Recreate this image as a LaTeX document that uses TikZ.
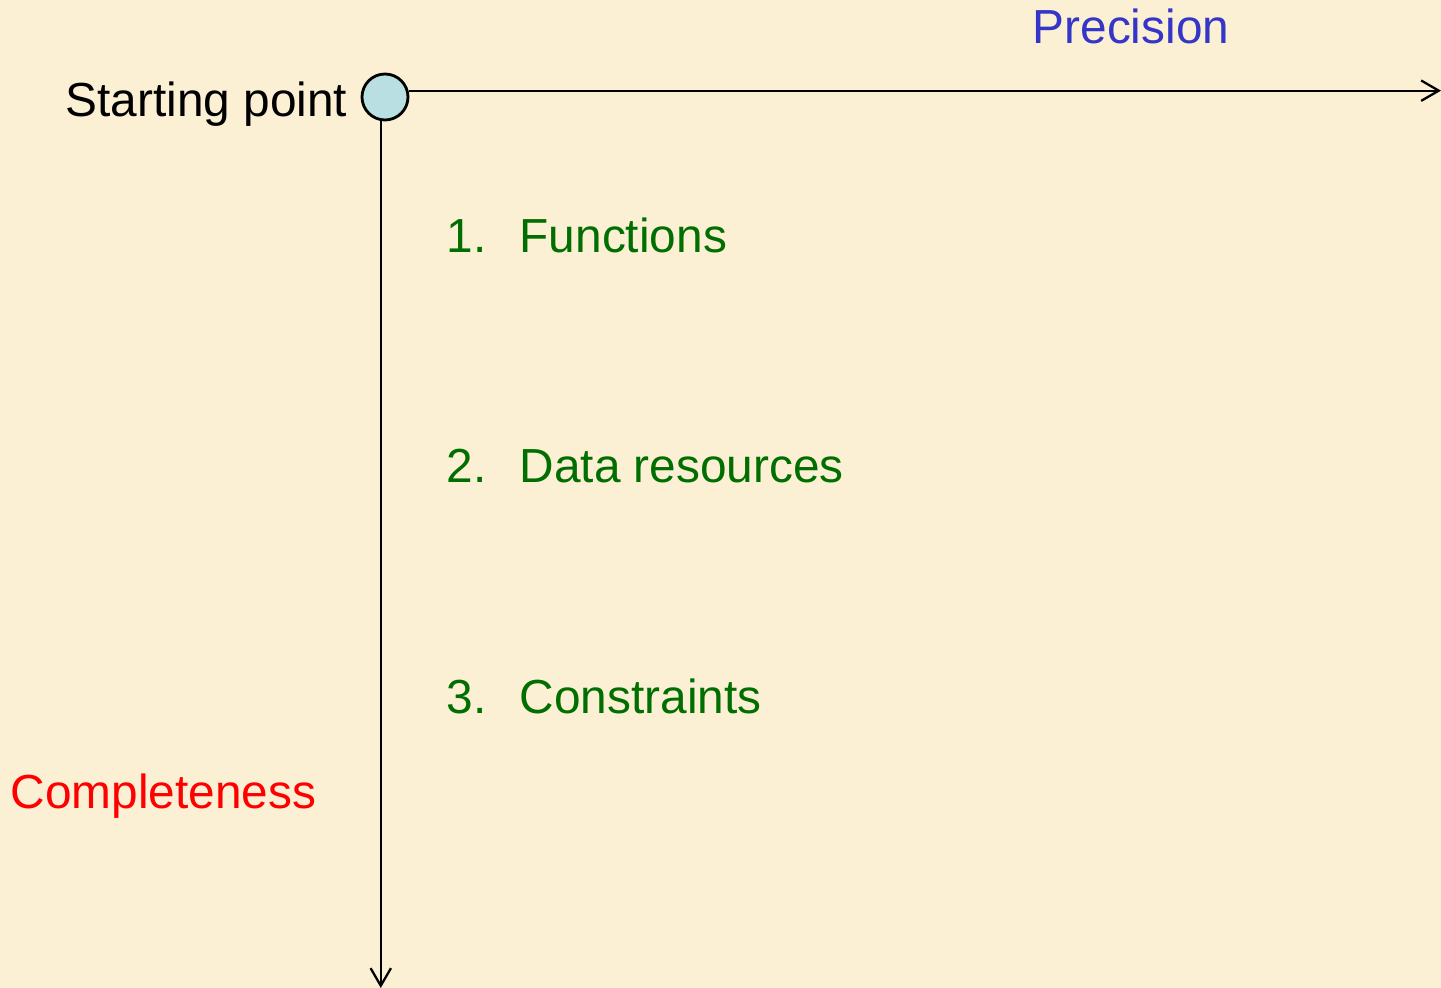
\documentclass[tikz,border=0pt]{standalone}
\usepackage{fontspec}
\setmainfont{Liberation Sans}
\usepackage{tikz}
\usetikzlibrary{arrows.meta}
\definecolor{my_paper}{HTML}{FBF0D4}
\definecolor{my_blue}{HTML}{3535C8}
\definecolor{my_red}{HTML}{FF0000}
\definecolor{my_green}{HTML}{006E00}
\definecolor{my_circle}{HTML}{BADFE3}

\begin{document}
\begin{tikzpicture}[
    axis/.style={draw=black, line width=0.65pt, -{Straight Barb[length=5pt, width=5.8pt, line width=0.65pt]}},
    label/.style={font=\fontsize{13.6}{16}\selectfont, inner sep=0pt, anchor=base west},
    item/.style={label, text=my_green}
]

% --- Hintergrund ---
\path[use as bounding box, fill=my_paper] (0,0) rectangle (14.41,-9.88);

% --- Startpunkt ---
\node[circle, draw=black, line width=0.8pt, fill=my_circle, minimum size=0.46cm, inner sep=0pt]
    (start) at (3.85,-0.97) {};
\node[label] (lbl_start) at (0.65,-1.17) {Starting point};

% --- Achsen ---
\coordinate (prec_end) at (14.41,0);
\coordinate (compl_end) at (0,-9.88);
\draw[axis] (start.15) -- (start.15 -| prec_end);
\draw[axis] (start.260) -- (start.260 |- compl_end);

% --- Achsenbeschriftungen ---
\node[label, text=my_blue] (lbl_prec) at (10.32,-0.44) {Precision};
\node[label, text=my_red] (lbl_compl) at (0.10,-8.08) {Completeness};

% --- Liste ---
\foreach \n/\txt/\y in {1/Functions/2.53, 2/Data resources/4.83, 3/Constraints/7.13} {
    \node[item] (num\n) at (4.46,-\y) {\n.};
    \node[item] (item\n) at (5.19,-\y) {\txt};
}

\end{tikzpicture}
\end{document}
